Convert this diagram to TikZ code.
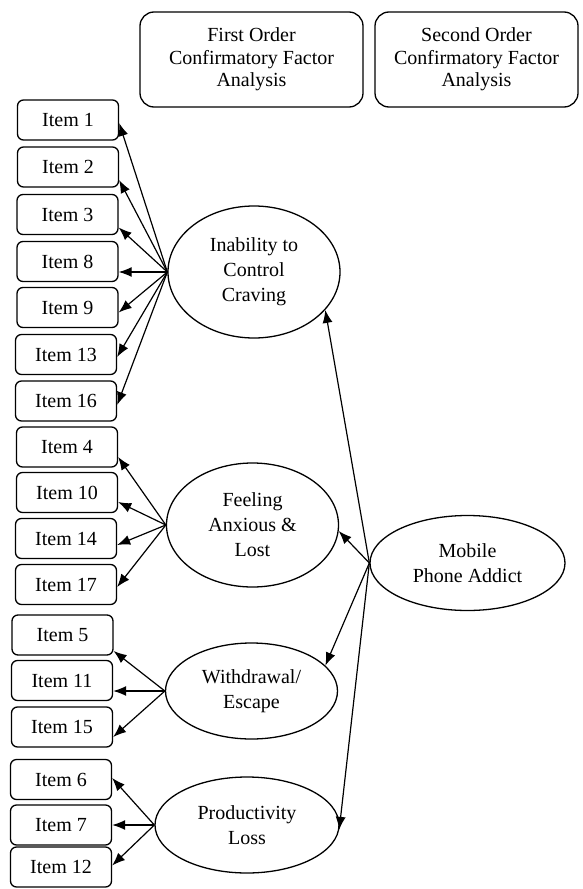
\documentclass[tikz,border=0pt]{standalone}
\usepackage{fontspec}
\setmainfont{Liberation Serif}
\usetikzlibrary{shapes.geometric,arrows.meta}
\begin{document}
\begin{tikzpicture}[x=1pt,y=-1pt,
  itembox/.style={draw, rounded corners=6pt, minimum width=101pt, minimum height=40pt, inner sep=0pt, font=\fontsize{20}{24}\selectfont, line width=1.3pt},
  head/.style={draw, rounded corners=14pt, align=center, inner sep=0pt, font=\fontsize{20}{22.5}\selectfont, line width=1.3pt, minimum height=95pt},
  factor/.style={draw, ellipse, align=center, inner sep=0pt, font=\fontsize{20}{25}\selectfont, line width=1.3pt},
  link/.style={line width=1.2pt, -{Latex[length=13pt,width=10pt]}}
]
\useasboundingbox (0,0) rectangle (583,889);

% headers
\node[head, minimum width=223pt] (h1) at (251.5,59.5) {First Order\\Confirmatory Factor\\Analysis};
\node[head, minimum width=203pt] (h2) at (476.5,59.5) {Second Order\\Confirmatory Factor\\Analysis};

% items
\node[itembox] (i1)  at (68,120)    {Item 1};
\node[itembox] (i2)  at (68,167)    {Item 2};
\node[itembox] (i3)  at (67.5,214.5) {Item 3};
\node[itembox] (i8)  at (67.5,261.5) {Item 8};
\node[itembox] (i9)  at (67.5,307.5) {Item 9};
\node[itembox] (i13) at (66,354.5)  {Item 13};
\node[itembox] (i16) at (66,401)    {Item 16};
\node[itembox] (i4)  at (67,447)    {Item 4};
\node[itembox] (i10) at (67,492.5)  {Item 10};
\node[itembox] (i14) at (66,538.5)  {Item 14};
\node[itembox] (i17) at (66,584.5)  {Item 17};
\node[itembox] (i5)  at (62.5,635)  {Item 5};
\node[itembox] (i11) at (62,680.5)  {Item 11};
\node[itembox] (i15) at (62,727)    {Item 15};
\node[itembox] (i6)  at (61,779.5)  {Item 6};
\node[itembox] (i7)  at (61,825)    {Item 7};
\node[itembox] (i12) at (61,867)    {Item 12};

% factors
\node[factor, minimum width=172pt, minimum height=132pt] (inab)  at (254,272) {Inability to\\Control\\Craving};
\node[factor, minimum width=172pt, minimum height=124pt] (feel)  at (252.5,525) {Feeling\\Anxious \&\\Lost};
\node[factor, minimum width=172pt, minimum height=96pt]  (withd) at (251.5,691) {Withdrawal/\\Escape};
\node[factor, minimum width=184pt, minimum height=96pt]  (prod)  at (247,825) {Productivity\\Loss};
\node[factor, minimum width=195pt, minimum height=95pt]  (mob)   at (467.5,563) {Mobile\\Phone Addict};

% first-order loadings
\draw[link] (inab.west) -- ([yshift=-3pt]i1.east);
\draw[link] (inab.west) -- ([yshift=-13pt]i2.east);
\draw[link] (inab.west) -- ([yshift=-13pt]i3.east);
\draw[link] (inab.west) -- ([yshift=-10.5pt]i8.east);
\draw[link] (inab.west) -- ([yshift=-5pt]i9.east);
\draw[link] (inab.west) -- ([yshift=-2.5pt]i13.east);
\draw[link] (inab.west) -- ([yshift=-4pt]i16.east);

\draw[link] (feel.west) -- ([yshift=-10pt]i4.east);
\draw[link] (feel.west) -- ([yshift=-9.5pt]i10.east);
\draw[link] (feel.west) -- ([yshift=-6.5pt]i14.east);
\draw[link] (feel.west) -- ([yshift=-2.5pt]i17.east);

\draw[link] (withd.west) -- ([yshift=-16pt]i5.east);
\draw[link] (withd.west) -- ([yshift=-10.5pt]i11.east);
\draw[link] (withd.west) -- ([yshift=-10pt]i15.east);

\draw[link] (prod.west) -- ([yshift=1.5pt]i6.east);
\draw[link] (prod.west) -- (i7.east);
\draw[link] (prod.west) -- ([yshift=1.5pt]i12.east);

% second-order loadings
\draw[link] (mob.west) -- (inab.-28);
\draw[link] (mob.west) -- (feel.-4);
\draw[link] (mob.west) -- (withd.19);
\draw[link] (mob.west) -- (prod.-3);
\end{tikzpicture}
\end{document}
